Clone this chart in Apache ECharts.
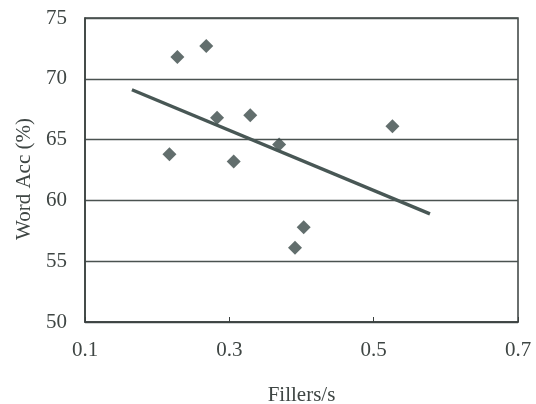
<!DOCTYPE html>
<html>
<head>
<meta charset="utf-8">
<script src="https://cdn.jsdelivr.net/npm/echarts@6/dist/echarts.min.js"></script>
<style>
  html, body { margin: 0; padding: 0; background: #fff; }
  #chart { width: 536px; height: 404px; }
</style>
</head>
<body>
<div id="chart"></div>
<script>
  // scatter points
  const fillers = [0.228, 0.268, 0.217, 0.283, 0.329, 0.306, 0.369, 0.403, 0.391, 0.526];
  const wordAcc = [71.8, 72.7, 63.8, 66.8, 67.0, 63.2, 64.6, 57.8, 56.1, 66.1];
  // linear trend line end points
  const trendX = [0.165, 0.578];
  const trendY = [69.1, 58.9];

  const textColor = "#3f4644";
  const markColor = "#3b4a48";

  const chart = echarts.init(document.getElementById("chart"));

  const option = {
    animation: false,
    backgroundColor: "#fff",
    textStyle: { fontFamily: "Liberation Serif" },
    grid: {
      left: 85,
      right: 18,
      top: 18,
      bottom: 82,
      outerBoundsMode: "none",
      show: true,
      borderColor: "#3a403f",
      borderWidth: 1.5,
    },
    xAxis: {
      type: "value",
      min: 0.1,
      max: 0.7,
      interval: 0.2,
      name: "Fillers/s",
      nameLocation: "middle",
      nameGap: 63,
      nameTextStyle: { color: textColor, fontSize: 21, fontFamily: "Liberation Serif" },
      axisLine: { show: true, lineStyle: { color: "#3a403f", width: 1.5 } },
      axisTick: { show: true, inside: true, length: 5, lineStyle: { color: "#3a403f" } },
      axisLabel: {
        color: textColor,
        fontSize: 21,
        margin: 18,
        fontFamily: "Liberation Serif",
        formatter: v => v.toFixed(1),
      },
      splitLine: { show: false },
    },
    yAxis: {
      type: "value",
      min: 50,
      max: 75,
      interval: 5,
      name: "Word Acc (%)",
      nameLocation: "middle",
      nameGap: 50,
      nameRotate: 90,
      nameTextStyle: {
        color: textColor,
        fontSize: 21,
        fontFamily: "Liberation Serif",
        padding: [0, 18, 0, 0],
      },
      axisLine: { show: true, lineStyle: { color: "#3a403f", width: 1.5 } },
      axisTick: { show: false },
      axisLabel: { color: textColor, fontSize: 21, margin: 18, fontFamily: "Liberation Serif" },
      splitLine: { show: true, lineStyle: { color: "#4a5250", width: 1.3 } },
    },
    series: [
      {
        type: "scatter",
        symbol: "diamond",
        symbolSize: 14,
        itemStyle: { color: markColor },
        data: fillers.map((x, i) => [x, wordAcc[i]]),
        z: 3,
      },
      {
        type: "line",
        showSymbol: false,
        symbol: "none",
        lineStyle: { color: "#485755", width: 3.5 },
        data: trendX.map((x, i) => [x, trendY[i]]),
        z: 4,
      },
    ],
  };

  chart.setOption(option);
</script>
</body>
</html>
